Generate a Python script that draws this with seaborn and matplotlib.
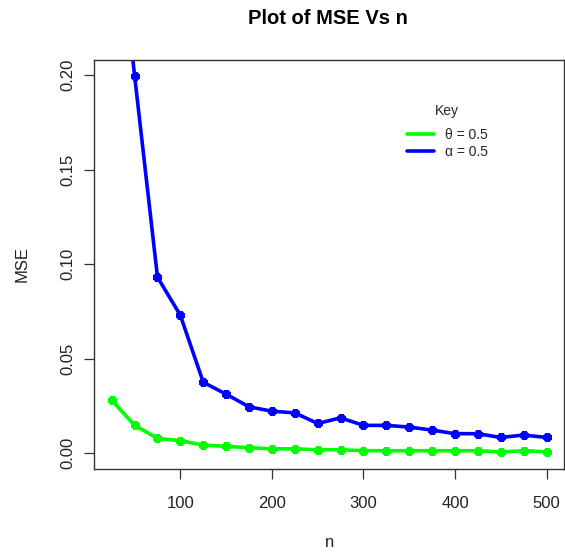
import matplotlib
matplotlib.use("Agg")
import matplotlib.pyplot as plt
import seaborn as sns
import pandas as pd

# Sample sizes and mean squared errors for the two estimators
n_values = [25, 50, 75, 100, 125, 150, 175, 200, 225, 250,
            275, 300, 325, 350, 375, 400, 425, 450, 475, 500]
mse_theta = [0.0281, 0.0149, 0.0079, 0.0067, 0.0044, 0.0037, 0.0030, 0.0024, 0.0024, 0.0019,
             0.0019, 0.0014, 0.0014, 0.0014, 0.0014, 0.0014, 0.0014, 0.0007, 0.0014, 0.0008]
mse_alpha = [0.310, 0.1998, 0.0932, 0.0730, 0.0376, 0.0313, 0.0246, 0.0223, 0.0214, 0.0158,
             0.0188, 0.0148, 0.0148, 0.0139, 0.0123, 0.0104, 0.0104, 0.0084, 0.0097, 0.0084]
series_labels = ["\u03b8 = 0.5", "\u03b1 = 0.5"]
series_colors = ["#00FF00", "#0000FF"]
x_ticks = [100, 200, 300, 400, 500]
y_ticks = [0.00, 0.05, 0.10, 0.15, 0.20]

df = pd.DataFrame({
    "n": n_values * 2,
    "MSE": mse_theta + mse_alpha,
    "series": [series_labels[0]] * len(n_values) + [series_labels[1]] * len(n_values),
})

sns.set_style("white")
plt.rcParams["font.family"] = ["Liberation Sans", "DejaVu Sans"]

W, H = 565, 554
fig = plt.figure(figsize=(W / 100, H / 100), dpi=100)
ax = fig.add_axes([94.3 / W, 1 - 468.5 / H, (564 - 94.3) / W, (468.5 - 60) / H])

sns.lineplot(data=df, x="n", y="MSE", hue="series", hue_order=series_labels,
             palette=dict(zip(series_labels, series_colors)), ax=ax, legend=False,
             marker=(8, 2, 0), markersize=6, markeredgewidth=2.8, linewidth=2.6,
             sort=False, estimator=None)
for line, c in zip(ax.get_lines(), series_colors):
    line.set_markeredgecolor(c)
    line.set_markerfacecolor(c)

# R-style axis ranges (4% padding)
ax.set_xlim(6, 519)
ax.set_ylim(-0.008, 0.208)
ax.set_xticks(x_ticks)
ax.set_xticklabels([str(v) for v in x_ticks])
ax.set_yticks(y_ticks)
ax.set_yticklabels([f"{v:.2f}" for v in y_ticks], rotation=90, va="center")

for s in ax.spines.values():
    s.set_visible(True)
    s.set_color("#333333")
    s.set_linewidth(1.0)
ax.tick_params(axis="both", direction="out", length=7.3, width=0.9, color="#333333",
               labelsize=12, labelcolor="#222222", left=True, bottom=True)
ax.tick_params(axis="x", pad=12.5)
ax.tick_params(axis="y", pad=6.5)

ax.set_xlabel("n", fontsize=12, labelpad=17.5, color="#222222")
ax.set_ylabel("MSE", fontsize=12, labelpad=22, color="#222222")
fig.text(328 / W, 1 - 18.5 / H, "Plot of MSE Vs n", ha="center", va="center",
         fontsize=14.5, fontweight="bold", color="black")

handles = ax.get_lines()[:2]
leg = ax.legend(handles, series_labels, title="Key", frameon=False,
                loc="upper left", bbox_to_anchor=(396 / W, 1 - 93 / H),
                bbox_transform=fig.transFigure, fontsize=10, title_fontsize=10,
                handlelength=1.95, handletextpad=0.75, labelspacing=0.22, borderpad=0.3)
leg._legend_box.sep = 7
for lh in leg.legend_handles:
    lh.set_marker("")
    lh.set_linewidth(2.6)

fig.savefig("out.png", dpi=100)
